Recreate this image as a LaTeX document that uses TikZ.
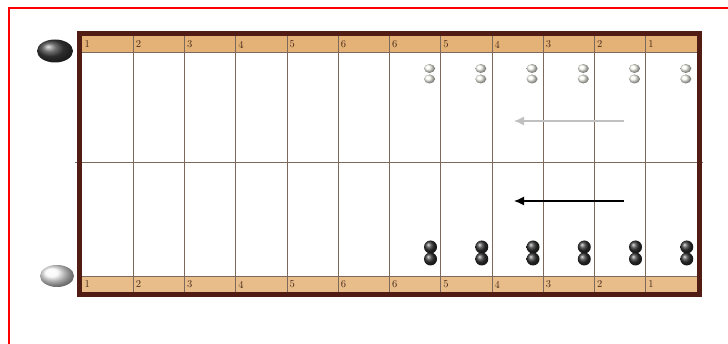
\documentclass[tikz,border=0pt]{standalone}
\usetikzlibrary{arrows.meta,shadings,shapes.geometric}
\definecolor{framebrown}{RGB}{80,28,20}
\definecolor{striptan}{RGB}{228,178,118}
\definecolor{gridline}{RGB}{125,105,92}
\definecolor{lightarrow}{RGB}{192,192,192}
\definecolor{lbltext}{RGB}{70,40,25}
\tikzset{
  lbl/.style={font=\fontsize{10.5}{12}\selectfont, text=lbltext, inner sep=0pt, anchor=west},
  wstone/.style={ellipse, minimum width=11pt, minimum height=9pt, inner sep=0pt, ball color=white!97!yellow, draw=none},
  bstone/.style={circle, minimum size=13pt, inner sep=0pt, ball color=black!80, draw=none},
  mvarrow/.style={line width=1.3pt, -{Latex[length=10pt,width=9pt]}},
}
\begin{document}
\begin{tikzpicture}[x=1pt,y=-1pt]
\useasboundingbox (0,0) rectangle (728,344);
\fill[white] (0,0) rectangle (728,344);
% red frame
\draw[red, line width=2pt] (9,344) -- (9,8) -- (728,8);
% strips
\fill[striptan] (82,36) rectangle (697,52);
\fill[striptan!85!white] (82,276) rectangle (697,292);
% grid
\foreach \i in {1,...,11}{
  \draw[gridline, line width=0.7pt] (82+51.25*\i,36) -- (82+51.25*\i,292);
}
\draw[gridline, line width=0.7pt] (82,52) -- (697,52);
\draw[gridline, line width=0.7pt] (82,276) -- (697,276);
\draw[gridline, line width=0.7pt] (75,162) -- (703,162);
% frame
\draw[framebrown, line width=5pt] (79.5,33.5) rectangle (699.5,294.5);
% labels
\foreach \n [count=\i from 0] in {1,2,3,4,5,6,6,5,4,3,2,1}{
  \node[lbl] (t\i) at (84.5+51.25*\i,44.5) {\n};
  \node[lbl] (b\i) at (84.5+51.25*\i,284.5) {\n};
}
% stones
\foreach \i in {6,...,11}{
  \node[wstone] (wa\i) at (82+51.25*\i+40,68.5) {};
  \node[wstone] (wb\i) at (82+51.25*\i+40,79) {};
  \node[bstone] (ba\i) at (82+51.25*\i+41,247) {};
  \node[bstone] (bb\i) at (82+51.25*\i+41,259) {};
}
% big stones
\node[ellipse, minimum width=36pt, minimum height=23pt, inner sep=0pt, ball color=black!75] (bigblack) at (55,51) {};
\node[ellipse, minimum width=34pt, minimum height=22pt, inner sep=0pt, ball color=white!93!gray] (bigwhite) at (57,276) {};
% arrows
\coordinate (ga) at (624,121);
\coordinate (gb) at (514,121);
\coordinate (ka) at (624,201);
\coordinate (kb) at (514,201);
\draw[mvarrow, lightarrow] (ga) -- (gb);
\draw[mvarrow, black] (ka) -- (kb);
\end{tikzpicture}
\end{document}
